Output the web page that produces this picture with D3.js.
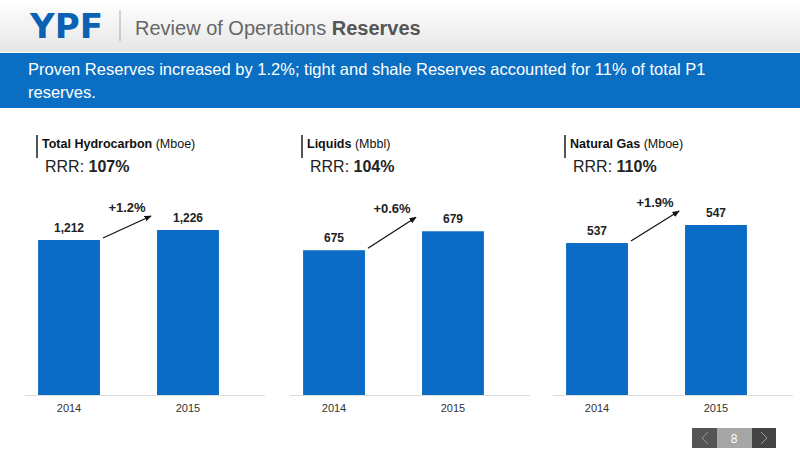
<!DOCTYPE html><html><head><meta charset="utf-8"><script src="https://d3js.org/d3.v7.min.js"></script>
<style>body{margin:0}svg{font-family:Arial,"Liberation Sans",sans-serif}</style></head><body><script>
const years=["2014","2015"];
const titles=["Total Hydrocarbon","Liquids","Natural Gas"];
const units=["(Mboe)","(Mbbl)","(Mboe)"];
const rrr=["107%","104%","110%"];
const values=[[1212,1226],[675,679],[537,547]];
const changes=["+1.2%","+0.6%","+1.9%"];
const axisMin=[995,644.5,452.6];
const axisMax=[1296,689.8,572];
const svg=d3.select("body").append("svg").attr("width",800).attr("height",450);
const defs=svg.append("defs");
const g=defs.append("linearGradient").attr("id","hg").attr("x1",0).attr("x2",0).attr("y1",0).attr("y2",1);
g.append("stop").attr("offset",0).attr("stop-color","#fff");g.append("stop").attr("offset",1).attr("stop-color","#e6e6e6");
defs.append("marker").attr("id","ar").attr("viewBox","0 0 10 10").attr("refX",9).attr("refY",5).attr("markerWidth",6).attr("markerHeight",6).attr("orient","auto").append("path").attr("d","M0,1L10,5L0,9z").attr("fill","#111");
svg.append("rect").attr("width",800).attr("height",52).attr("fill","url(#hg)");
svg.append("text").attr("x",30).attr("y",38).attr("fill","#0b62b4").attr("font-size",34).attr("font-weight",900).attr("font-family","Arial Black,DejaVu Sans").attr("textLength",73).attr("lengthAdjust","spacingAndGlyphs").text("YPF");
svg.append("line").attr("x1",120).attr("x2",120).attr("y1",10).attr("y2",41).attr("stroke","#aaa");
const t=svg.append("text").attr("x",135).attr("y",35).attr("font-size",20).attr("fill","#666");
t.append("tspan").text("Review of Operations ");t.append("tspan").attr("font-weight","bold").attr("fill","#555").text("Reserves");
svg.append("rect").attr("y",53).attr("width",800).attr("height",55).attr("fill","#0a6fc2");
svg.append("text").attr("x",28).attr("y",75).attr("fill","#fff").attr("font-size",16.5).text("Proven Reserves increased by 1.2%; tight and shale Reserves accounted for 11% of total P1");
svg.append("text").attr("x",28).attr("y",98).attr("fill","#fff").attr("font-size",16.5).text("reserves.");
const px=[25,290,553];
values.forEach((vals,i)=>{
 const c=svg.append("g").attr("transform",`translate(${px[i]},0)`);
 c.append("line").attr("x1",12).attr("x2",12).attr("y1",135).attr("y2",158).attr("stroke","#555").attr("stroke-width",2);
 const tt=c.append("text").attr("x",17).attr("y",148).attr("font-size",12.5).attr("fill","#111");
 tt.append("tspan").attr("font-weight","bold").text(titles[i]);tt.append("tspan").text(" "+units[i]);
 const r=c.append("text").attr("x",20).attr("y",172).attr("font-size",16).attr("fill","#222");
 r.append("tspan").text("RRR: ");r.append("tspan").attr("font-weight","bold").text(rrr[i]);
 const x=d3.scaleBand().domain(years).range([0,207]).paddingInner(0.48).paddingOuter(0.11);
 const y=d3.scaleLinear().domain([axisMin[i],axisMax[i]]).range([395,180]);
 c.append("line").attr("x1",0).attr("x2",240).attr("y1",395.5).attr("y2",395.5).attr("stroke","#ddd");
 c.selectAll(".b").data(vals).join("rect").attr("x",(d,j)=>x(years[j])).attr("width",x.bandwidth()).attr("y",d=>y(d)).attr("height",d=>395-y(d)).attr("fill","#0a6cc4");
 c.selectAll(".v").data(vals).join("text").attr("x",(d,j)=>x(years[j])+x.bandwidth()/2).attr("y",d=>y(d)-8).attr("text-anchor","middle").attr("font-size",12).attr("font-weight","bold").attr("fill","#222").text(d=>d3.format(",")(d));
 c.selectAll(".yr").data(years).join("text").attr("x",d=>x(d)+x.bandwidth()/2).attr("y",412).attr("text-anchor","middle").attr("font-size",11).attr("fill","#333").text(d=>d);
 const x0=x(years[0])+x.bandwidth()+3,x1=x(years[1])-6,y0=y(vals[0])-2,y1=Math.min(y(vals[1]),y(vals[0]))-14;
 c.append("line").attr("x1",x0).attr("y1",y0).attr("x2",x1).attr("y2",y1).attr("stroke","#111").attr("stroke-width",1.2).attr("marker-end","url(#ar)");
 c.append("text").attr("x",(x0+x1)/2).attr("y",y1-4).attr("text-anchor","middle").attr("font-size",13).attr("font-weight","bold").attr("fill","#222").text(changes[i]);
});
svg.append("rect").attr("x",692).attr("y",428).attr("width",25).attr("height",20).attr("fill","#555");
svg.append("rect").attr("x",717).attr("y",428).attr("width",35).attr("height",20).attr("fill","#a6a6a6");
svg.append("rect").attr("x",752).attr("y",428).attr("width",24).attr("height",20).attr("fill","#444");
svg.append("text").attr("x",734).attr("y",443).attr("text-anchor","middle").attr("fill","#fff").attr("font-size",12).text("8");
svg.append("path").attr("d","M708,432L702,438L708,444").attr("fill","none").attr("stroke","#999");
svg.append("path").attr("d","M761,432L767,438L761,444").attr("fill","none").attr("stroke","#999");
</script></body></html>
